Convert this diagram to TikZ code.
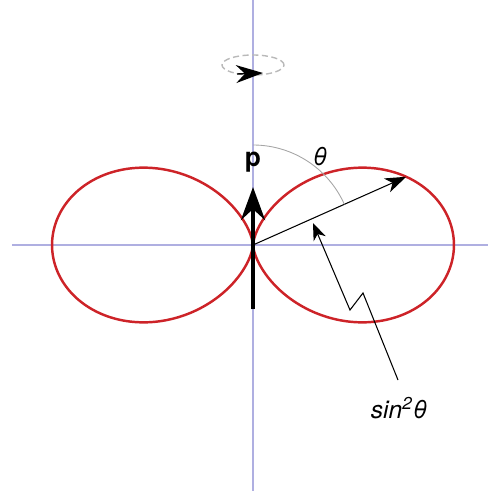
\documentclass[tikz,border=0pt]{standalone}
\usepackage{fontspec}
\setmainfont{TeX Gyre Heros}
\usetikzlibrary{arrows.meta,positioning,calc}
\definecolor{lobered}{RGB}{205,35,40}
\definecolor{axisblue}{RGB}{175,175,225}

\begin{document}
\begin{tikzpicture}[x=0.02cm,y=0.02cm,
  axis/.style={axisblue,line width=0.6pt},
  lobe/.style={lobered,line width=1.4pt},
  thin/.style={black,line width=0.6pt},
  pvec/.style={black,line width=2.8pt,-{Stealth[length=0.66cm,width=0.48cm,inset=0.22cm]}},
  lab/.style={font=\fontsize{14}{16}\selectfont}]
\useasboundingbox (-253,-246) rectangle (235,245);

%% axes
\coordinate (O) at (0,0);
\draw[axis] (-241,0) -- (235,0);
\draw[axis] (0,245) -- (0,-246);

%% radiation pattern r = sin^2(theta)
\draw[lobe] plot[domain=0:360,samples=240,smooth]
  ({201*pow(sin(\x),3)},{201*pow(sin(\x),2)*cos(\x)});

%% dipole vector
\coordinate (ptail) at (0,-64);
\coordinate (phead) at (0,58);
\draw[pvec] (ptail) -- (phead);
\node[lab,font=\fontsize{15}{17}\selectfont\bfseries] (plab) at (0,83) {p};

%% radius vector and angle
\coordinate (rtip) at ({201*pow(sin(66),2)*sin(66)},{201*pow(sin(66),2)*cos(66)});
\draw[thin,-{Stealth[length=0.42cm,width=0.3cm,inset=0.12cm]}] (O) -- (rtip);
\draw[gray!70,line width=0.5pt] (90:100) arc[start angle=90,end angle=24,radius=100];
\node[lab,font=\fontsize{14}{16}\selectfont\itshape] (thlab) at (67,88) {θ};

%% pointer to the pattern
\coordinate (zz0) at (145,-135);
\coordinate (zz1) at (110,-48);
\coordinate (zz2) at (97,-65);
\coordinate (zz3) at (60,22);
\draw[thin,-{Stealth[length=0.34cm,width=0.26cm,inset=0.1cm]}] (zz0) -- (zz1) -- (zz2) -- (zz3);
\node[lab,font=\fontsize{14}{16}\selectfont\itshape] (slab) at (146,-163) {sin\textsuperscript{2}θ};

%% sense of rotation
\draw[gray!55,dash pattern=on 3.5pt off 2pt,line width=0.8pt] (0,180) ellipse[x radius=31,y radius=10];
\coordinate (rotA) at (-16,171);
\coordinate (rotB) at (10,172);
\draw[black,line width=0.8pt,-{Stealth[length=0.54cm,width=0.36cm,inset=0.18cm]}] (rotA) -- (rotB);
\end{tikzpicture}
\end{document}
